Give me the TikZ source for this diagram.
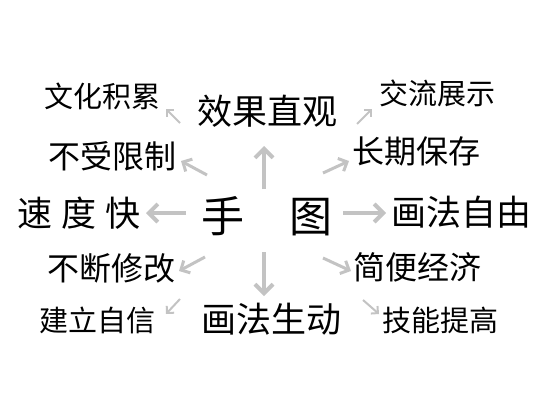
\documentclass[tikz,border=0pt]{standalone}
\usepackage{fontspec}
\setmainfont{Noto Sans CJK SC}
\usetikzlibrary{arrows.meta}
\definecolor{arrowgray}{RGB}{195,195,195}
\tikzset{
  lbl/.style={inner sep=0pt, anchor=center, text=black},
  big/.style={lbl, font=\fontsize{35pt}{35pt}\selectfont},
  huge/.style={lbl, font=\fontsize{43pt}{43pt}\selectfont},
  mid/.style={lbl, font=\fontsize{32pt}{32pt}\selectfont},
  sml/.style={lbl, font=\fontsize{29pt}{29pt}\selectfont},
  thickarr/.style={draw=arrowgray, line width=4pt, -{Straight Barb[length=9pt,width=18pt]}},
  midarr/.style={draw=arrowgray, line width=3pt, -{Straight Barb[length=7pt,width=14pt]}},
  thinarr/.style={draw=arrowgray, line width=2pt, -{Straight Barb[length=5pt,width=10pt]}}
}
\begin{document}
\begin{tikzpicture}[x=1pt,y=-1pt]
\useasboundingbox (0,0) rectangle (554,415);
% main nodes
\node[huge] (shou) at (223,216) {手};
\node[huge] (tu) at (311,217) {图};
\node[big] (xgzg) at (267,111) {效果直观};
\node[big] (hfsd) at (271,319) {画法生动};
\node[big] (sdk) at (79,213) {速\hspace{9pt}度\hspace{9pt}快};
\node[big] (hfzy) at (461,212) {画法自由};
% side nodes
\node[sml] (whjl) at (102,96) {文化积累};
\node[mid] (bsxz) at (112,156) {不受限制};
\node[mid] (bdxg) at (111,268) {不断修改};
\node[sml] (jlzx) at (97,320) {建立自信};
\node[sml] (jlzs) at (437,93) {交流展示};
\node[mid] (cqbc) at (416,151) {长期保存};
\node[mid] (jbjj) at (417,267) {简便经济};
\node[sml] (jntg) at (440,320) {技能提高};
% connector ends
\coordinate (tUp) at (264,189);   \coordinate (hUp) at (264,146);
\coordinate (tDn) at (264,252);   \coordinate (hDn) at (264,296);
\coordinate (tL) at (186,213);    \coordinate (hL) at (146,213);
\coordinate (tR) at (343,213);    \coordinate (hR) at (386,213);
\coordinate (t1) at (180,123);    \coordinate (h1) at (166,109);
\coordinate (t2) at (207,175);    \coordinate (h2) at (181,161);
\coordinate (t3) at (357,124);    \coordinate (h3) at (372,109);
\coordinate (t4) at (323,173);    \coordinate (h4) at (349,161);
\coordinate (t5) at (205,257);    \coordinate (h5) at (179,271);
\coordinate (t6) at (180,299);    \coordinate (h6) at (166,314);
\coordinate (t7) at (323,258);    \coordinate (h7) at (351,271);
\coordinate (t8) at (363,300);    \coordinate (h8) at (379,314);
% connectors
\draw[thickarr] (tUp) -- (hUp);
\draw[thickarr] (tDn) -- (hDn);
\draw[thickarr] (tL) -- (hL);
\draw[thickarr] (tR) -- (hR);
\draw[thinarr] (t1) -- (h1);
\draw[midarr] (t2) -- (h2);
\draw[thinarr] (t3) -- (h3);
\draw[midarr] (t4) -- (h4);
\draw[midarr] (t5) -- (h5);
\draw[thinarr] (t6) -- (h6);
\draw[midarr] (t7) -- (h7);
\draw[thinarr] (t8) -- (h8);
\end{tikzpicture}
\end{document}
